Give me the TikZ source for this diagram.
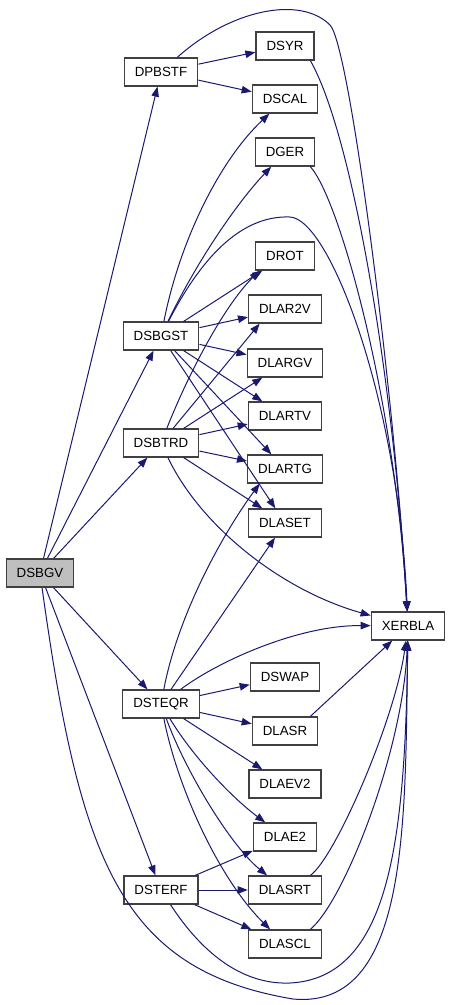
\documentclass[tikz,border=0pt]{standalone}
\usepackage{fontspec}
\setmainfont{Liberation Sans}
\usetikzlibrary{arrows.meta}
\definecolor{Edge}{HTML}{191970}
\definecolor{Frame}{HTML}{404040}
\definecolor{Root}{HTML}{BFBFBF}
\tikzset{func/.style={draw=Frame,fill=white,line width=1.3pt,minimum height=28pt,inner xsep=10.5pt,inner ysep=0pt,font=\fontsize{13.3}{16}\selectfont},call/.style={-{Triangle[length=10pt,width=7.5pt]},line width=1pt,draw=Edge}}
\begin{document}
\begin{tikzpicture}[x=1pt,y=-1pt]
\useasboundingbox (0,0) rectangle (451,1005);
\node[func,fill=Root] (DSBGV) at (40,573) {DSBGV};
\foreach \n/\x/\y in {DPBSTF/161/72,DSBGST/161/336,DSBTRD/161/443,DSTEQR/161/704,DSTERF/161/890,DSYR/285/46,DSCAL/285/99,DGER/285/152,DROT/285/256,DLAR2V/285/309,DLARGV/285/363,DLARTV/285/416,DLARTG/285/469,DLASET/285/523,DSWAP/285/677,DLASR/285/731,DLAEV2/285/784,DLAE2/285/837,DLASRT/285/890,DLASCL/285/944,XERBLA/408/626}{\node[func] (\n) at (\x,\y) {\n};}
\foreach \a/\b in {DSBGV/DPBSTF,DSBGV/DSBGST,DSBGV/DSBTRD,DSBGV/DSTEQR,DSBGV/DSTERF,DPBSTF/DSYR,DPBSTF/DSCAL,DSBGST/DROT,DSBGST/DLAR2V,DSBGST/DLARGV,DSBGST/DLARTV,DSBGST/DLARTG,DSBGST/DLASET,DSBTRD/DLAR2V.-150,DSBTRD/DLARGV,DSBTRD/DLARTV,DSBTRD/DLARTG,DSBTRD/DLASET,DSTEQR/DLASET,DSTEQR/DSWAP,DSTEQR/DLASR,DSTEQR/DLAEV2,DSTERF/DLAE2,DSTERF/DLASRT,DSTERF/DLASCL,DLASR.30/XERBLA}{\draw[call] (\a) -- (\b);}
\draw[call] (DPBSTF) .. controls (230,10) and (300,-5) .. (330,25) .. controls (350,45) and (395,400) .. (XERBLA);
\draw[call] (DSYR.-30) .. controls (350,130) and (392,360) .. (XERBLA);
\draw[call] (DGER.-30) .. controls (340,200) and (395,400) .. (XERBLA);
\draw[call] (DSBGST) .. controls (180,240) and (220,160) .. (DSCAL);
\draw[call] (DSBGST) .. controls (195,265) and (235,205) .. (DGER);
\draw[call] (DSBGST) .. controls (200,260) and (240,215) .. (290,217) .. controls (330,219) and (398,400) .. (XERBLA);
\draw[call] (DSBTRD) .. controls (190,370) and (225,305) .. (DROT.-150);
\draw[call] (DSBTRD) .. controls (200,525) and (280,590) .. (XERBLA);
\draw[call] (DSTEQR) .. controls (178,615) and (222,535) .. (DLARTG.-150);
\draw[call] (DSTEQR) .. controls (220,660) and (300,625) .. (XERBLA);
\draw[call] (DSTEQR) .. controls (195,760) and (235,800) .. (DLAE2);
\draw[call] (DSTEQR) .. controls (185,770) and (230,845) .. (DLASRT);
\draw[call] (DSTEQR) .. controls (178,790) and (220,880) .. (DLASCL);
\draw[call] (DLASRT.30) .. controls (335,858) and (395,720) .. (XERBLA);
\draw[call] (DLASCL.30) .. controls (345,900) and (403,750) .. (XERBLA);
\draw[call] (DSTERF) .. controls (200,950) and (240,985) .. (290,983) .. controls (390,978) and (405,840) .. (XERBLA);
\draw[call] (DSBGV) .. controls (80,860) and (120,970) .. (293,999) .. controls (410,1010) and (405,820) .. (XERBLA);
\end{tikzpicture}
\end{document}
